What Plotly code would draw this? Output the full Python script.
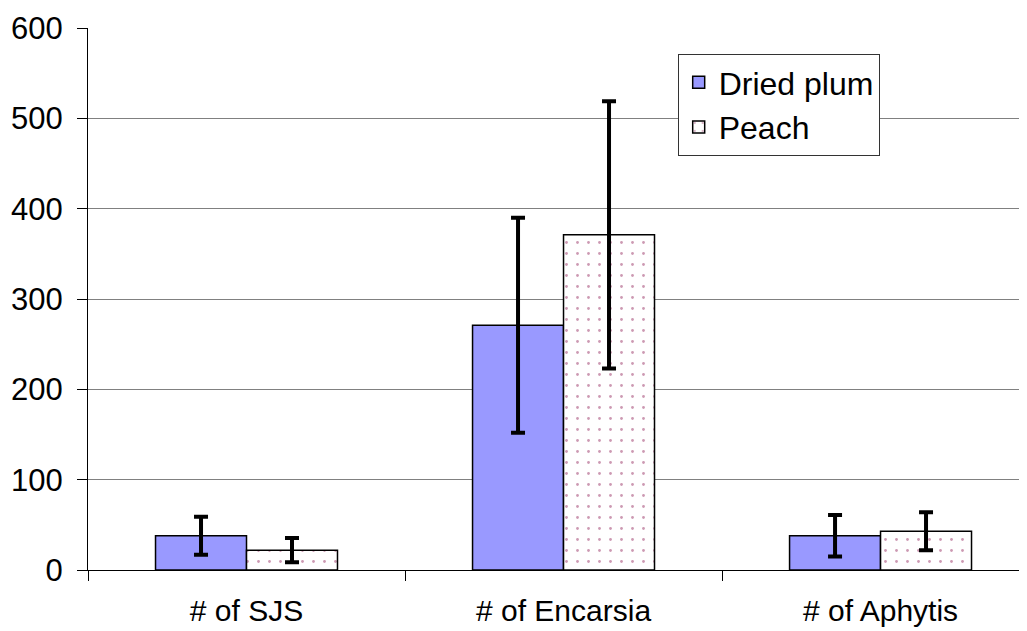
import plotly.graph_objects as go

categories = ["# of SJS", "# of Encarsia", "# of Aphytis"]
dried_plum = [38, 271, 38]
dried_plum_err = [21, 119, 23]
peach = [22, 371, 43]
peach_err = [13.5, 148, 21]
y_ticks = [0, 100, 200, 300, 400, 500, 600]

font_family = "Liberation Sans, Arial, sans-serif"

fig = go.Figure()
fig.add_trace(go.Bar(
    name="Dried plum", x=categories, y=dried_plum,
    marker=dict(color="#9999FF", line=dict(color="black", width=1.5)),
    error_y=dict(type="data", array=dried_plum_err, visible=True,
                 color="black", thickness=4, width=7),
))
fig.add_trace(go.Bar(
    name="Peach", x=categories, y=peach,
    marker=dict(color="white", line=dict(color="black", width=1.5),
                pattern=dict(shape=".", fgcolor="#993366", bgcolor="white",
                             size=11, solidity=0.05)),
    error_y=dict(type="data", array=peach_err, visible=True,
                 color="black", thickness=4, width=7),
))

fig.update_layout(
    width=1019, height=623,
    margin=dict(l=80, r=0, t=20, b=61, autoexpand=False),
    paper_bgcolor="white", plot_bgcolor="white",
    barmode="group", bargap=0.426, bargroupgap=0,
    font=dict(family=font_family, size=30, color="black"),
    showlegend=True,
    legend=dict(x=0.628, y=0.952, xanchor="left", yanchor="top",
                bordercolor="#333333", borderwidth=1, bgcolor="white",
                font=dict(size=32), tracegroupgap=0),
)
fig.update_xaxes(
    range=[-0.5, 2.462], showline=True, linecolor="black", linewidth=1,
    ticks="outside", tickson="boundaries", ticklen=10, tickcolor="black",
    showgrid=False, tickfont=dict(size=30), ticklabelstandoff=14,
)
fig.update_yaxes(
    range=[0, 600], tickvals=y_ticks, showline=True, linecolor="black",
    linewidth=1, ticks="outside", ticklen=10, tickcolor="black",
    showgrid=True, gridcolor="#808080", gridwidth=1, zeroline=False,
    tickfont=dict(size=31), ticklabelstandoff=8,
)

fig.write_html("out.html")
